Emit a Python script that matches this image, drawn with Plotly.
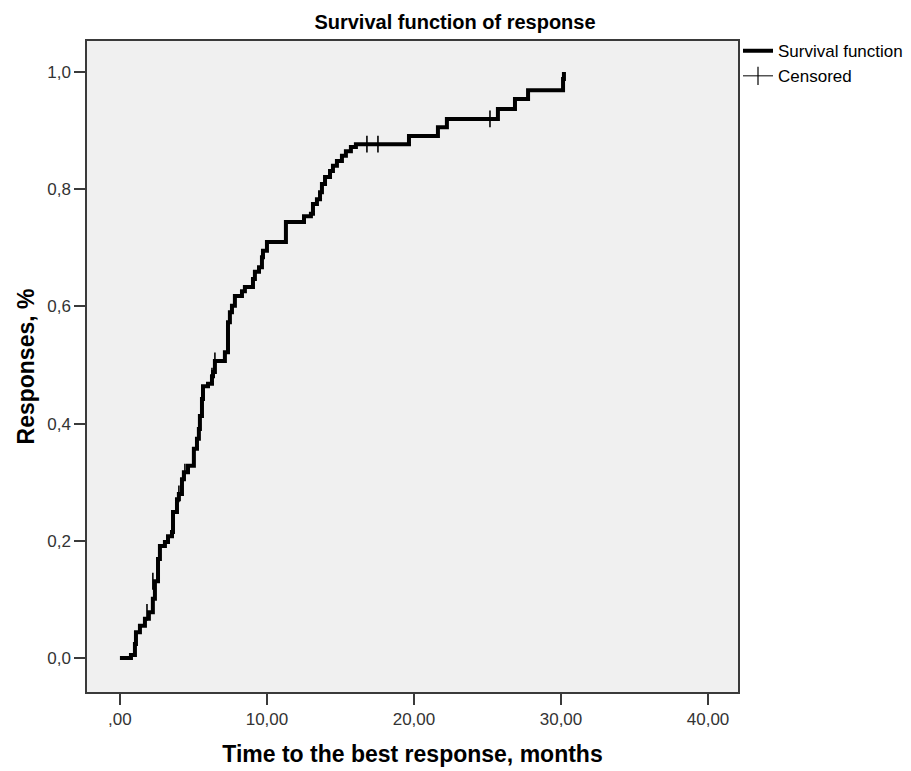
import plotly.graph_objects as go

# Step curve (time in months, cumulative response proportion)
step_time = [0.0, 0.75, 1.02, 1.09, 1.36, 1.70, 1.97, 2.24, 2.38, 2.59, 2.72, 3.06, 3.27,
             3.54, 3.61, 3.88, 4.01, 4.22, 4.35, 4.63, 5.03, 5.24, 5.37, 5.44, 5.58, 5.65,
             5.99, 6.26, 6.33, 6.46, 7.14, 7.35, 7.48, 7.62, 7.82, 8.30, 8.50, 9.05, 9.18,
             9.46, 9.66, 9.73, 10.00, 11.29, 12.52, 12.99, 13.13, 13.40, 13.61, 13.74, 13.95,
             14.29, 14.49, 14.76, 15.10, 15.37, 15.71, 16.05, 19.66, 21.63, 22.24, 25.71,
             26.87, 27.76, 30.14, 30.20]
step_value = [0.0, 0.005, 0.024, 0.044, 0.055, 0.067, 0.078, 0.101, 0.131, 0.169, 0.191, 0.198, 0.208,
              0.215, 0.249, 0.271, 0.280, 0.305, 0.317, 0.328, 0.357, 0.374, 0.391, 0.413, 0.442, 0.464,
              0.468, 0.481, 0.488, 0.507, 0.522, 0.573, 0.590, 0.601, 0.618, 0.626, 0.633, 0.647, 0.659,
              0.667, 0.684, 0.695, 0.710, 0.744, 0.754, 0.758, 0.775, 0.783, 0.795, 0.809, 0.821,
              0.831, 0.840, 0.848, 0.857, 0.865, 0.872, 0.877, 0.891, 0.906, 0.920, 0.937,
              0.954, 0.969, 0.988, 1.0]

# Censored observations
censor_time = [1.84, 2.24, 4.01, 4.42, 5.58, 6.26, 6.46, 16.80, 17.55, 25.17]
censor_value = [0.078, 0.131, 0.280, 0.317, 0.442, 0.481, 0.507, 0.877, 0.877, 0.920]

x_tick_vals = [0, 10, 20, 30, 40]
x_tick_text = [",00", "10,00", "20,00", "30,00", "40,00"]
y_tick_vals = [0.0, 0.2, 0.4, 0.6, 0.8, 1.0]
y_tick_text = ["0,0", "0,2", "0,4", "0,6", "0,8", "1,0"]

FONT = "Liberation Sans, Arial, sans-serif"

# the page adds an 8px body margin, so the figure is sized/offset to compensate
W, H = 903, 763

fig = go.Figure()
fig.add_trace(go.Scatter(
    x=step_time, y=step_value, mode="lines", line=dict(shape="hv", color="black", width=4),
    name="Survival function", showlegend=True))
fig.add_trace(go.Scatter(
    x=censor_time, y=censor_value, mode="markers",
    marker=dict(symbol="line-ns", size=12, line=dict(color="black", width=1.6)),
    name="Censored", showlegend=False))
fig.add_trace(go.Scatter(
    x=[None], y=[None], mode="lines+markers",
    line=dict(color="black", width=1),
    marker=dict(symbol="line-ns", size=13, line=dict(color="black", width=1.2)),
    name="Censored", showlegend=True))

axis_common = dict(showline=True, linecolor="#3a3a3a", linewidth=1.5, mirror=True,
                   ticks="outside", ticklen=11, tickwidth=1.5, tickcolor="#3a3a3a",
                   showgrid=False, zeroline=False, automargin=False,
                   tickfont=dict(family=FONT, size=17, color="#333333"))

fig.update_layout(
    width=W, height=H,
    margin=dict(l=79, r=173, t=33, b=79, autoexpand=False),
    paper_bgcolor="white", plot_bgcolor="#f0f0f0",
    font=dict(family=FONT, color="black"),
    title=dict(text="<b>Survival function of response</b>", x=447 / W, xanchor="center",
               y=1 - 14 / H, yanchor="middle", xref="container", yref="container",
               font=dict(family=FONT, size=20, color="black")),
    xaxis=dict(range=[-2.24, 42.04], tickvals=x_tick_vals, ticktext=x_tick_text,
               title=dict(text="<b>Time to the best response, months</b>", standoff=18,
                          font=dict(family=FONT, size=23, color="black")),
               **axis_common),
    yaxis=dict(range=[-0.058, 1.053], tickvals=y_tick_vals, ticktext=y_tick_text,
               title=dict(text="<b>Responses, %</b>", standoff=6,
                          font=dict(family=FONT, size=23, color="black")),
               **axis_common),
    legend=dict(x=1.0, xanchor="left", y=1.012, yanchor="top", bgcolor="rgba(0,0,0,0)",
                font=dict(family=FONT, size=17, color="black"),
                itemwidth=30, tracegroupgap=0),
)

fig.write_html("out.html")
